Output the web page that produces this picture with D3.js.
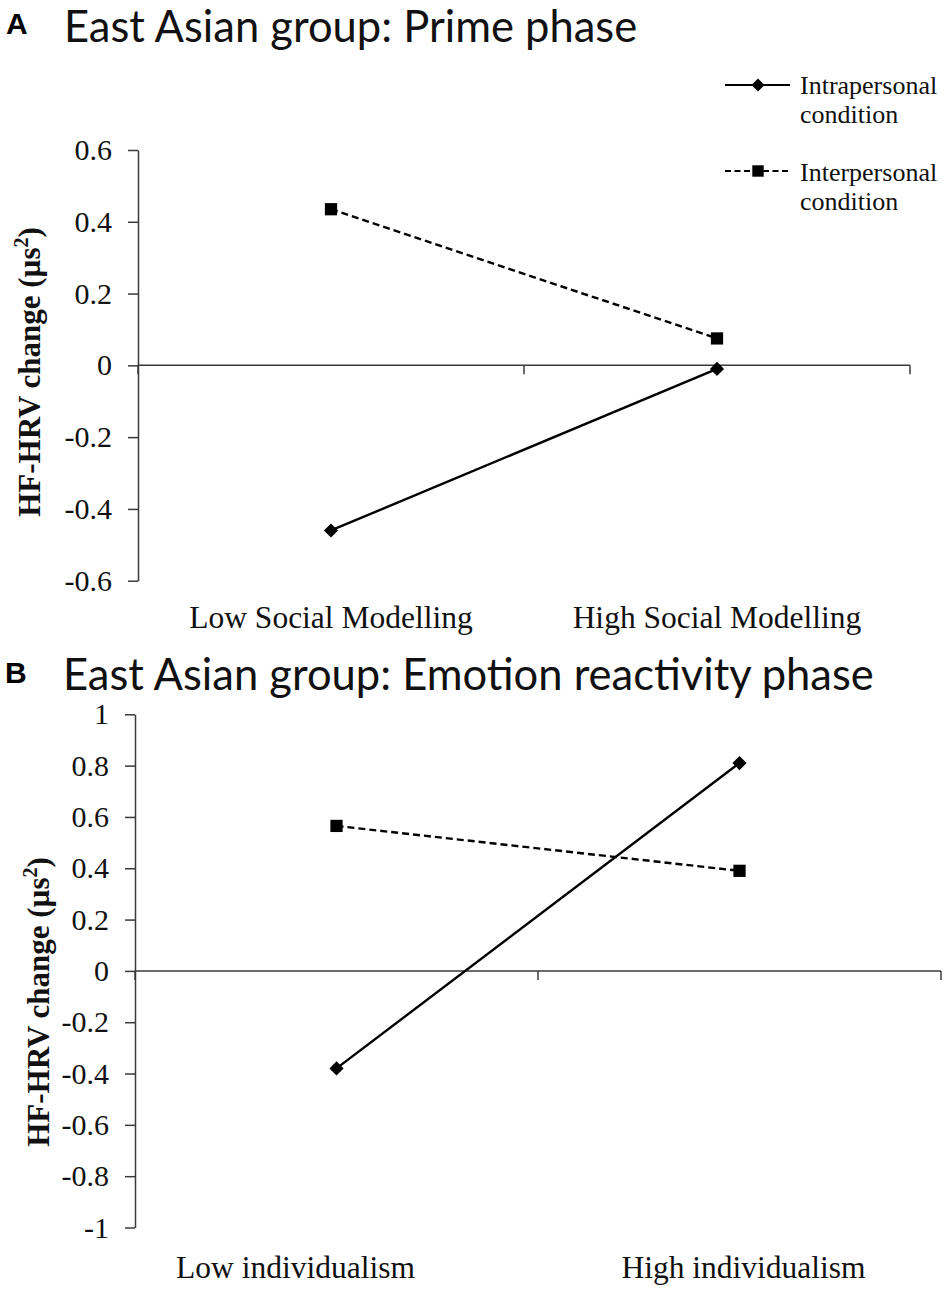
<!DOCTYPE html>
<html>
<head>
<meta charset="utf-8">
<script src="https://cdn.jsdelivr.net/npm/d3@7"></script>
<style>
  body { margin: 0; background: #fff; }
  svg { display: block; }
</style>
</head>
<body>
<div id="chart"></div>
<script>
// values
var seriesNames = ['Intrapersonal condition', 'Interpersonal condition'];

var catsA   = ['Low Social Modelling', 'High Social Modelling'];
var intraA  = [-0.46, -0.01];
var interA  = [0.435, 0.075];
var ticksA  = [0.6, 0.4, 0.2, 0, -0.2, -0.4, -0.6];

var catsB   = ['Low individualism', 'High individualism'];
var intraB  = [-0.38, 0.81];
var interB  = [0.565, 0.39];
var ticksB  = [1, 0.8, 0.6, 0.4, 0.2, 0, -0.2, -0.4, -0.6, -0.8, -1];

var W = 950, H = 1294;
var serif = '"Liberation Serif", "Times New Roman", serif';
var axisColor = '#3a3a3a';

var svg = d3.select('#chart')
  .append('svg')
  .attr('width', W)
  .attr('height', H);

svg.append('rect')
  .attr('width', W)
  .attr('height', H)
  .attr('fill', '#fff');

var fmt = function(d) {
  return d === 0 ? '0' : String(Math.round(d * 10) / 10);
};

var diamond = d3.symbol().type(d3.symbolSquare).size(100);
var square  = d3.symbol().type(d3.symbolSquare).size(150);

var drawPanel = function(p) {
  var g = svg.append('g');

  var x = d3.scaleBand()
    .domain(p.cats)
    .range([p.left, p.right]);

  var y = d3.scaleLinear()
    .domain(d3.extent(p.ticks))
    .range([p.bottom, p.top]);

  // letter + title
  g.append('text')
    .attr('x', p.letterX)
    .attr('y', p.letterY)
    .attr('font-family', '"Liberation Sans", Arial, sans-serif')
    .attr('font-weight', 'bold')
    .attr('font-size', 30)
    .text(p.letter);

  g.append('text')
    .attr('x', p.titleX)
    .attr('y', p.titleY)
    .attr('font-family', 'Lato, "Open Sans", sans-serif')
    .attr('font-size', 43.5)
    .attr('fill', '#111')
    .text(p.title);

  // y axis
  var yAxis = g.append('g')
    .attr('transform', 'translate(' + p.left + ',0)')
    .call(d3.axisLeft(y)
      .tickValues(p.ticks)
      .tickFormat(fmt)
      .tickSize(10)
      .tickSizeOuter(0)
      .tickPadding(16));

  yAxis.select('.domain').attr('stroke', axisColor).attr('stroke-width', 1.5);
  yAxis.selectAll('.tick line').attr('stroke', axisColor).attr('stroke-width', 1.5);
  yAxis.selectAll('.tick text')
    .attr('font-family', serif)
    .attr('font-size', 30)
    .attr('fill', '#111');

  // horizontal axis at zero
  var edges = [p.left].concat(p.cats.map(function(c) { return x(c) + x.bandwidth(); }));

  g.append('line')
    .attr('x1', p.left)
    .attr('x2', p.right)
    .attr('y1', y(0))
    .attr('y2', y(0))
    .attr('stroke', axisColor)
    .attr('stroke-width', 1.5);

  g.selectAll('.xtick')
    .data(edges)
    .enter()
    .append('line')
    .attr('class', 'xtick')
    .attr('x1', function(d) { return d; })
    .attr('x2', function(d) { return d; })
    .attr('y1', y(0))
    .attr('y2', y(0) + 9)
    .attr('stroke', axisColor)
    .attr('stroke-width', 1.5);

  g.selectAll('.cat')
    .data(p.cats)
    .enter()
    .append('text')
    .attr('class', 'cat')
    .attr('x', function(d, i) { return x(d) + x.bandwidth() / 2 + p.catShift[i]; })
    .attr('y', p.catY)
    .attr('text-anchor', 'middle')
    .attr('font-family', serif)
    .attr('font-size', 31.5)
    .attr('fill', '#111')
    .text(function(d) { return d; });

  // y title
  var yl = g.append('text')
    .attr('transform', 'translate(' + p.yLabelX + ',' + p.yLabelY + ') rotate(-90)')
    .attr('text-anchor', 'middle')
    .attr('font-family', serif)
    .attr('font-weight', 'bold')
    .attr('font-size', 31)
    .attr('fill', '#111');
  yl.append('tspan').text('HF-HRV change (\u00b5s');
  yl.append('tspan').attr('font-size', 20).attr('dy', -12).text('2');
  yl.append('tspan').attr('dy', 12).text(')');

  // series
  var line = d3.line()
    .x(function(d, i) { return x(p.cats[i]) + x.bandwidth() / 2; })
    .y(function(d) { return y(d); });

  g.append('path')
    .datum(p.inter)
    .attr('d', line)
    .attr('fill', 'none')
    .attr('stroke', '#000')
    .attr('stroke-width', 2.4)
    .attr('stroke-dasharray', '7,4');

  g.append('path')
    .datum(p.intra)
    .attr('d', line)
    .attr('fill', 'none')
    .attr('stroke', '#000')
    .attr('stroke-width', 2.4);

  g.selectAll('.sq')
    .data(p.inter)
    .enter()
    .append('path')
    .attr('class', 'sq')
    .attr('d', square)
    .attr('transform', function(d, i) {
      return 'translate(' + (x(p.cats[i]) + x.bandwidth() / 2) + ',' + y(d) + ')';
    });

  g.selectAll('.dm')
    .data(p.intra)
    .enter()
    .append('path')
    .attr('class', 'dm')
    .attr('d', diamond)
    .attr('transform', function(d, i) {
      return 'translate(' + (x(p.cats[i]) + x.bandwidth() / 2) + ',' + y(d) + ') rotate(45)';
    });
};

drawPanel({
  letter: 'A', letterX: 6, letterY: 34,
  title: 'East Asian group: Prime phase', titleX: 64, titleY: 42,
  cats: catsA, intra: intraA, inter: interA, ticks: ticksA,
  left: 138, right: 910, top: 150, bottom: 580.7,
  catY: 628, catShift: [0, 0],
  yLabelX: 40, yLabelY: 372
});

drawPanel({
  letter: 'B', letterX: 5, letterY: 683,
  title: 'East Asian group: Emotion reactivity phase', titleX: 63, titleY: 690,
  cats: catsB, intra: intraB, inter: interB, ticks: ticksB,
  left: 135, right: 941, top: 714.3, bottom: 1227.5,
  catY: 1278, catShift: [-41, 4],
  yLabelX: 49, yLabelY: 1002
});

// legend (panel A only)
var legend = svg.append('g');
var legendRows = [
  { name: seriesNames[0], y: 85, dash: null, mark: d3.symbol().type(d3.symbolSquare).size(85), rot: 45, text: 94 },
  { name: seriesNames[1], y: 171, dash: '6,3.5', mark: d3.symbol().type(d3.symbolSquare).size(130), rot: 0, text: 181 }
];

legendRows.forEach(function(r) {
  legend.append('line')
    .attr('x1', 725)
    .attr('x2', 790)
    .attr('y1', r.y)
    .attr('y2', r.y)
    .attr('stroke', '#000')
    .attr('stroke-width', 2.2)
    .attr('stroke-dasharray', r.dash);

  legend.append('path')
    .attr('d', r.mark)
    .attr('transform', 'translate(758,' + r.y + ') rotate(' + r.rot + ')');

  var t = legend.append('text')
    .attr('x', 800)
    .attr('y', r.text)
    .attr('font-family', serif)
    .attr('font-size', 26)
    .attr('fill', '#111');
  var words = r.name.split(' ');
  t.append('tspan').attr('x', 800).text(words[0]);
  t.append('tspan').attr('x', 800).attr('dy', 29).text(words[1]);
});
</script>
</body>
</html>
